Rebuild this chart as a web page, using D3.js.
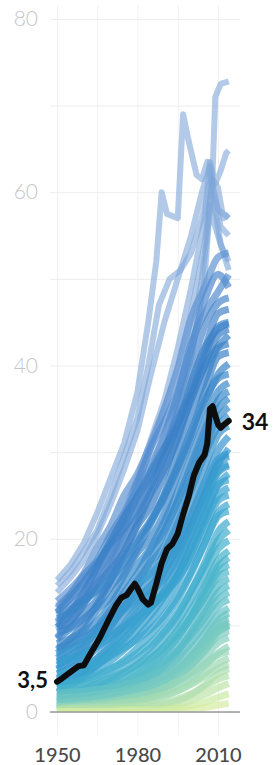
<!DOCTYPE html>
<html>
<head>
<meta charset="utf-8">
<script src="https://cdn.jsdelivr.net/npm/d3@7.9.0/dist/d3.min.js"></script>
<style>
  html, body { margin: 0; padding: 0; background: #fff; }
  svg { display: block; font-family: Lato, "Open Sans", sans-serif; }
</style>
</head>
<body>
<svg id="chart" width="273" height="765"></svg>
<script>
// ============= DATA ==================

// years shared by the bulk of the country lines
const gridYears = [1950, 1955, 1960, 1965, 1970, 1975, 1980, 1985, 1990, 1995, 2000, 2005, 2010, 2014];

// one array per country, values at gridYears
const bulkSeries = [
  // blue band
  [12.8, 14.2, 16, 19, 21.5, 25, 27.5, 31, 35, 39.5, 45.5, 49, 52.5, 53],
  [12, 13.6, 15.8, 17.5, 20.5, 23, 26.5, 30.5, 33.5, 37, 42, 47.5, 50.5, 49],
  [8.6, 10.4, 12.6, 15.5, 18.8, 22.4, 26, 28.5, 32, 36.5, 42.5, 46, 48.5, 50.5],
  [11.2, 12.2, 13.8, 16.2, 18.2, 21.5, 24.8, 27.2, 30.2, 34.5, 39.5, 44.5, 47.2, 47.8],
  [10.4, 11.8, 13, 14.2, 16.8, 20.2, 22.5, 25.5, 29.8, 33.8, 37, 41.8, 46, 46.5],
  [9.8, 10.5, 12.4, 14.8, 16.5, 18.5, 21.8, 25.2, 28, 31.5, 36.5, 41, 44.5, 45],
  [11.5, 13.2, 15, 17.2, 19.4, 21.2, 23.5, 26.2, 29.5, 33, 38, 42, 44.2, 44.8],
  [7.2, 8.4, 10.2, 12.5, 15.2, 18.5, 21.5, 23.8, 27.5, 32, 36, 40, 43.5, 44.2],
  [9.8, 11.5, 13.8, 16.8, 19.8, 22.5, 25, 27.8, 30.5, 33.2, 36.5, 39.8, 42.2, 43.5],
  [9.2, 9.8, 11.4, 13, 15.2, 17.8, 20, 22.2, 25.2, 30, 34.5, 38.2, 42, 42.5],
  [8.4, 9.6, 10.8, 12.2, 14.4, 16.2, 18.8, 21.8, 24.8, 28.2, 32, 37, 41, 41.5],
  [7.9, 8.5, 9.5, 11.8, 13.2, 15.8, 18.4, 20.2, 23, 27.5, 31.5, 35.5, 39, 40.2],
  [10.8, 11.5, 12.8, 14, 15.5, 17.2, 19.6, 22, 25, 28.5, 32.5, 36, 38.5, 39],
  [6.8, 7.9, 9.2, 10.5, 12.4, 14.8, 17, 19, 22, 25.5, 29.5, 33.5, 37, 38],
  [7.4, 7.8, 8.6, 9.8, 11.8, 13.8, 16, 18.8, 21, 24.5, 28.5, 32.5, 36, 37],
  [6.2, 7.2, 8.2, 9.6, 11.2, 13.2, 15.2, 17.5, 20.8, 24.2, 27.5, 31.5, 35, 36.2],
  [5.8, 6.5, 7.6, 9.4, 11, 12.2, 14.5, 17.2, 19.2, 22.5, 26.5, 30.5, 34, 35.2],
  [5.4, 6.2, 7.2, 8.4, 10, 12, 13.8, 15.6, 18.5, 21.8, 25.6, 29.6, 33, 34.2],
  // teal band
  [4.9, 5.8, 6.8, 7.8, 9.4, 11.2, 12.8, 14.4, 17.2, 20.5, 24.2, 28.2, 32, 33],
  [4.4, 5, 6, 7.4, 8.8, 10, 11.6, 13.6, 16.2, 19.2, 22.8, 26.5, 30.2, 31.8],
  [6.5, 7.2, 8, 9.2, 10.5, 11.8, 13.2, 14.6, 16.4, 18.8, 21.8, 25, 28.6, 30.4],
  [5, 5.6, 6.4, 7.8, 9.8, 12.2, 14.6, 16, 17.5, 19.4, 22.4, 26, 29.2, 29.8],
  [3.9, 4.6, 5.4, 6.2, 7.6, 9.2, 10.8, 12.8, 15.2, 18.2, 21.5, 25.2, 28.6, 29.5],
  [3, 3.8, 4.8, 6.2, 8, 10.1, 12.2, 13.8, 15.4, 17.6, 20.8, 24.5, 27.8, 28.6],
  [3.6, 4.1, 4.8, 5.8, 7, 8.4, 10.2, 12, 14, 16.8, 20.5, 24, 27.6, 28.4],
  [5.8, 6.2, 6.8, 7.6, 8.6, 9.8, 11, 12.2, 13.8, 16, 19, 22.5, 26.2, 27.5],
  [3.2, 3.6, 4.4, 5.4, 6.5, 7.9, 9.4, 11.2, 13.4, 15.8, 19.2, 22.8, 26.2, 26.8],
  [2.9, 3.4, 4, 4.8, 5.9, 7.2, 8.6, 10.4, 12.4, 15, 18.2, 21.8, 25, 25.9],
  [2.3, 3, 4.1, 5.4, 7, 8.8, 10.4, 12, 13.6, 15.4, 17.8, 21, 24.4, 25],
  [4.4, 4.7, 5.2, 5.8, 6.5, 7.4, 8.4, 9.6, 11.2, 13.4, 16.2, 19.5, 23, 24],
  [2.2, 2.6, 3.2, 4, 4.9, 6, 7.4, 8.9, 10.8, 13, 16, 19.4, 22.6, 23.2],
  [1.8, 2.1, 2.6, 3.2, 4, 5, 6.2, 7.5, 9.2, 11.2, 14, 17.2, 20.8, 22],
  [3.2, 3.4, 3.8, 4.3, 5, 5.8, 6.8, 8, 9.6, 11.5, 14, 16.8, 19.8, 21],
  [1.5, 1.8, 2.3, 2.9, 3.6, 4.5, 5.5, 6.8, 8.5, 10.4, 13, 15.8, 18.8, 19.8],
  [1.3, 1.6, 2, 2.5, 3.2, 3.9, 4.9, 6.1, 7.6, 9.5, 11.8, 14.5, 17.5, 18.6],
  [0.6, 0.8, 1.1, 1.5, 2.1, 2.9, 3.9, 5.1, 6.6, 8.5, 11, 14, 16.8, 17.8],
  [2.6, 2.8, 3.1, 3.5, 4, 4.6, 5.4, 6.3, 7.5, 9, 11, 13.4, 16.2, 17],
  [1.1, 1.4, 1.7, 2.2, 2.8, 3.5, 4.4, 5.5, 6.9, 8.6, 10.8, 13.2, 15.6, 16.2],
  [0.4, 0.6, 0.8, 1.1, 1.6, 2.2, 3, 4, 5.3, 7, 9.3, 12, 14.6, 15.4],
  [0.9, 1.1, 1.4, 1.8, 2.3, 2.9, 3.6, 4.5, 5.7, 7.2, 9.2, 11.4, 13.8, 14.6],
  [1.9, 2, 2.2, 2.5, 2.9, 3.4, 4, 4.8, 5.8, 7.1, 8.8, 10.8, 13, 13.8],
  [0.7, 0.9, 1.1, 1.4, 1.8, 2.3, 2.9, 3.7, 4.8, 6.2, 8, 10, 12.2, 13],
  [2.2, 2.3, 2.4, 2.6, 2.8, 3.1, 3.6, 4.2, 5, 6, 7.4, 9.2, 11.2, 12],
  [0.3, 0.4, 0.6, 0.8, 1.1, 1.5, 2, 2.7, 3.6, 4.8, 6.4, 8.4, 10.6, 11.4],
  [1.2, 1.3, 1.4, 1.6, 1.9, 2.2, 2.7, 3.3, 4.1, 5.1, 6.5, 8.2, 10.2, 10.8],
  [1.6, 1.7, 1.8, 2, 2.2, 2.5, 2.9, 3.4, 4.1, 5, 6.2, 7.8, 9.5, 10.4],
  [0.5, 0.6, 0.8, 1, 1.3, 1.7, 2.2, 2.9, 3.8, 4.9, 6.2, 7.8, 9.6, 10.2],
  [0.5, 0.5, 0.6, 0.7, 0.9, 1.2, 1.6, 2.2, 3, 4, 5.4, 7.2, 9.2, 10],
  [1, 1.1, 1.3, 1.5, 1.8, 2.1, 2.5, 3, 3.7, 4.7, 6, 7.6, 9.3, 9.9],
  [0.8, 0.9, 1, 1.2, 1.4, 1.7, 2.1, 2.6, 3.3, 4.2, 5.4, 7, 8.8, 9.4],
  [0.2, 0.3, 0.4, 0.6, 0.8, 1.1, 1.5, 2, 2.7, 3.6, 4.8, 6.3, 8, 8.6],
  // yellow-green band
  [0.2, 0.3, 0.4, 0.6, 0.8, 1, 1.3, 1.7, 2.3, 3, 4, 5.3, 6.8, 7.6],
  [0.6, 0.7, 0.8, 1, 1.2, 1.5, 1.8, 2.2, 2.8, 3.5, 4.4, 5.5, 6.6, 7],
  [0.1, 0.2, 0.3, 0.4, 0.6, 0.8, 1, 1.3, 1.8, 2.4, 3.3, 4.4, 5.6, 6.2],
  [0.4, 0.5, 0.6, 0.7, 0.9, 1.1, 1.3, 1.6, 2, 2.5, 3.2, 4.1, 5, 5.5],
  [0.1, 0.2, 0.2, 0.3, 0.4, 0.4, 0.5, 0.6, 0.9, 1.3, 2, 3.1, 4.4, 5],
  [0.3, 0.4, 0.4, 0.5, 0.5, 0.6, 0.7, 0.8, 1.1, 1.5, 2.1, 2.9, 3.8, 4.2],
  [0.1, 0.1, 0.1, 0.2, 0.2, 0.3, 0.3, 0.4, 0.5, 0.8, 1.3, 2, 2.8, 3.3],
  [0, 0.1, 0.1, 0.1, 0.1, 0.2, 0.2, 0.2, 0.3, 0.5, 0.7, 1.1, 1.7, 2.1],
  [0, 0, 0, 0, 0, 0.1, 0.1, 0.1, 0.1, 0.2, 0.3, 0.5, 0.8, 1]
];

// the few countries that run far above the rest: [year, value]
const outlierSeries = [
  [[1950, 15.2], [1955, 17], [1960, 19.5], [1965, 23], [1970, 27], [1975, 31], [1980, 37], [1984, 45], [1987, 52], [1989, 60], [1991, 57.5], [1995, 57], [1997, 69], [1999, 66], [2002, 62], [2004, 61.5], [2006, 63.5], [2008, 60.5], [2010, 58], [2014, 57]],
  [[1950, 9.5], [1960, 12.5], [1970, 17.5], [1980, 24], [1990, 32], [1995, 37], [2000, 43], [2004, 50], [2007, 58], [2008, 62.5], [2009, 71], [2011, 72.5], [2014, 72.8]],
  [[1950, 11.5], [1960, 14.5], [1970, 19.5], [1980, 27], [1990, 36], [1995, 42], [2000, 49], [2005, 57], [2007, 63.5], [2009, 61], [2011, 62.5], [2013, 64.5], [2014, 64.8]],
  [[1950, 13.8], [1955, 15.5], [1960, 17.5], [1965, 20.5], [1970, 24], [1975, 28], [1980, 32.5], [1985, 39], [1990, 45], [1995, 50], [2000, 55], [2004, 60], [2007, 63], [2009, 59], [2011, 56], [2014, 55]],
  [[1950, 12.3], [1960, 15], [1970, 19.5], [1980, 26], [1990, 35], [1995, 40], [2000, 46], [2005, 54], [2008, 61.5], [2010, 60.5], [2012, 57], [2014, 57.5]],
  [[1950, 14.6], [1955, 16.2], [1960, 18.5], [1965, 21], [1970, 25], [1975, 29.5], [1980, 34], [1984, 40], [1988, 47], [1992, 50], [1996, 51], [2000, 53], [2004, 57], [2007, 61], [2009, 58], [2011, 54], [2014, 52]],
  [[1950, 10.2], [1960, 13], [1970, 17], [1980, 22.5], [1990, 30], [2000, 41], [2005, 50], [2007, 58.5], [2009, 56], [2012, 53], [2014, 51]]
];

// highlighted country (black line)
const highlightYears = [1950, 1952, 1955, 1958, 1960, 1963, 1966, 1969, 1972, 1974, 1976, 1978, 1979, 1980, 1982, 1984, 1985, 1987, 1989, 1991, 1993, 1995, 1997, 1999, 2001, 2003, 2005, 2006, 2007, 2008, 2009, 2010, 2011, 2012, 2014];
const highlightValues = [3.5, 3.9, 4.6, 5.3, 5.4, 7.0, 8.6, 10.5, 12.3, 13.2, 13.5, 14.4, 14.8, 14.3, 13.0, 12.4, 12.6, 14.8, 17.2, 18.8, 19.4, 20.6, 22.8, 24.8, 27.3, 28.8, 29.7, 31.0, 35.0, 35.3, 34.2, 33.2, 32.8, 33.1, 33.6];
const startLabel = "3,5";
const endLabel = "34";

const yTicks = [0, 20, 40, 60, 80];
const yGridTicks = [0, 10, 20, 30, 40, 50, 60, 70, 80];
const xTicks = [1950, 1980, 2010];
const xGridTicks = [1950, 1965, 1980, 1995, 2010];

// ============= SETUP ==================

const svg = d3.select("#chart");
const margin = { top: 19, left: 57, bottom: 712, right: 218 };

const x = d3.scaleLinear().domain([1950, 2010]).range([margin.left, margin.right]);
const y = d3.scaleLinear().domain([0, 80]).range([margin.bottom, margin.top]);

// colour by the country's latest value
const color = d3.scaleLinear()
  .domain([0, 2, 5, 9, 13, 18, 26, 34, 44, 52, 60])
  .range(["#dcf0a0", "#cdeaa4", "#aaddb0", "#80cdbf", "#5cbec6", "#44b2cb", "#36a1cf", "#388fcc", "#3a7fc6", "#5d91d2", "#7ea7d8"])
  .clamp(true);

svg.append("defs").append("clipPath").attr("id", "plot")
  .append("rect")
  .attr("x", 0).attr("y", 0)
  .attr("width", 273).attr("height", y(0));

// ============= GRID ==================

svg.append("g")
  .attr("transform", `translate(0,735)`)
  .call(d3.axisBottom(x).tickValues(xGridTicks).tickSize(-730).tickFormat(""))
  .call(g => g.select(".domain").remove())
  .call(g => g.selectAll("line").attr("stroke", "#f1f1f1"));

svg.append("g")
  .attr("transform", `translate(50,0)`)
  .call(d3.axisLeft(y).tickValues(yGridTicks).tickSize(-190).tickFormat(""))
  .call(g => g.select(".domain").remove())
  .call(g => g.selectAll("line").attr("stroke", "#ededed"));

// ============= LINES ==================

const bulkLine = d3.line()
  .x((d, i) => x(gridYears[i]))
  .y(d => y(d))
  .curve(d3.curveMonotoneX);

const pairLine = d3.line()
  .x(d => x(d[0]))
  .y(d => y(d[1]));

const lines = svg.append("g").attr("clip-path", "url(#plot)");

lines.append("g")
  .selectAll("path")
  .data(outlierSeries)
  .join("path")
  .attr("d", pairLine)
  .attr("fill", "none")
  .attr("stroke", d => color(d3.max(d, p => p[1])))
  .attr("stroke-opacity", 0.6)
  .attr("stroke-width", 6)
  .attr("stroke-linejoin", "round");

lines.append("g")
  .selectAll("path")
  .data(bulkSeries)
  .join("path")
  .attr("d", bulkLine)
  .attr("fill", "none")
  .attr("stroke", d => color(d[d.length - 1]))
  .attr("stroke-opacity", 0.7)
  .attr("stroke-width", 7)
  .attr("stroke-linejoin", "round");

// baseline
svg.append("line")
  .attr("x1", 50).attr("x2", 240)
  .attr("y1", y(0)).attr("y2", y(0))
  .attr("stroke", "#9a9a9a")
  .attr("stroke-width", 1.5);

const highlight = highlightYears.map((yr, i) => [yr, highlightValues[i]]);

svg.append("path")
  .datum(highlight)
  .attr("d", pairLine)
  .attr("fill", "none")
  .attr("stroke", "#0d0d0d")
  .attr("stroke-width", 6)
  .attr("stroke-linejoin", "round")
  .attr("stroke-linecap", "round");

// ============= AXES & LABELS ==================

svg.append("g")
  .attr("transform", `translate(50,0)`)
  .call(d3.axisLeft(y).tickValues(yTicks).tickSize(0).tickPadding(12))
  .call(g => g.select(".domain").remove())
  .call(g => g.selectAll("text")
    .attr("font-family", "Lato, sans-serif")
    .attr("font-size", 21)
    .attr("font-weight", 300)
    .attr("fill", "#c6c6c6"));

svg.append("g")
  .attr("transform", `translate(0,${y(0)})`)
  .call(d3.axisBottom(x).tickValues(xTicks).tickFormat(d3.format("d")).tickSize(0).tickPadding(36))
  .call(g => g.select(".domain").remove())
  .call(g => g.selectAll("text")
    .attr("font-family", "Lato, sans-serif")
    .attr("font-size", 20)
    .attr("font-weight", 500)
    .attr("fill", "#4a4a4a"));

const first = highlight[0], last = highlight[highlight.length - 1];

svg.append("text")
  .attr("x", x(first[0]) - 9)
  .attr("y", y(first[1]) + 6)
  .attr("text-anchor", "end")
  .attr("font-size", 22)
  .attr("font-weight", 700)
  .attr("fill", "#111")
  .text(startLabel);

svg.append("text")
  .attr("x", x(last[0]) + 13)
  .attr("y", y(last[1]) + 9)
  .attr("font-size", 23)
  .attr("font-weight", 700)
  .attr("fill", "#111")
  .text(endLabel);
</script>
</body>
</html>
